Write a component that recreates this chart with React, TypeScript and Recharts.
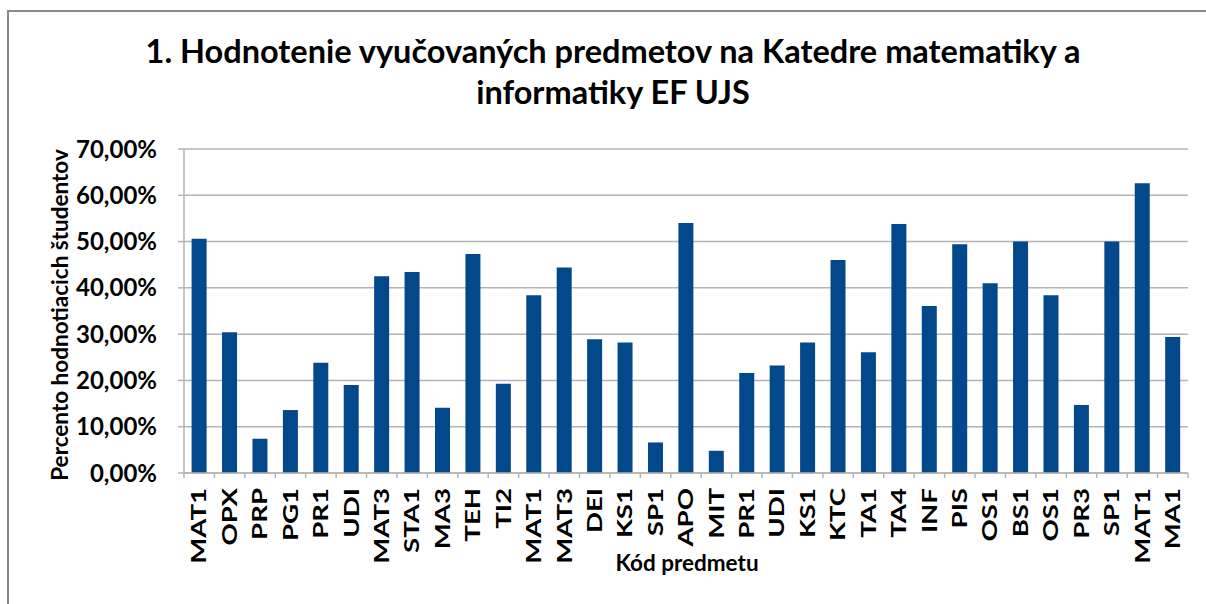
import React from 'react';
import { BarChart, Bar, XAxis, YAxis, CartesianGrid } from 'recharts';

const categories = ['MAT1','OPX','PRP','PG1','PR1','UDI','MAT3','STA1','MA3','TEH','TI2','MAT1','MAT3','DEI','KS1','SP1','APO','MIT','PR1','UDI','KS1','KTC','TA1','TA4','INF','PIS','OS1','BS1','OS1','PR3','SP1','MAT1','MA1'];
const values = [50.6,30.4,7.4,13.6,23.8,19.0,42.5,43.4,14.1,47.3,19.3,38.4,44.4,28.9,28.2,6.6,54.0,4.8,21.6,23.2,28.2,46.0,26.1,53.8,36.1,49.4,41.0,50.0,38.4,14.7,50.0,62.6,29.4];
const yTicks = [0, 10, 20, 30, 40, 50, 60, 70];

const titleLines = ['1. Hodnotenie vyučovaných predmetov na Katedre matematiky a', 'informatiky EF UJS'];
const xTitle = 'Kód predmetu';
const yTitle = 'Percento hodnotiacich študentov';

const data = categories.map((c, i) => ({ code: c, value: values[i] }));

const FONT = 'Lato, Carlito, sans-serif';
const GRID = '#b4b4b4';
const BAR = '#03488B';
const FRAME = '#8a8a8a';

function XTick(props: any) {
  const { x, y, payload, index } = props;
  const half = payload.offset || 0;
  const isLast = index === categories.length - 1;
  return (
    <g>
      <line x1={x - half} x2={x - half} y1={y} y2={y + 5} stroke={GRID} strokeWidth={1.5} />
      {isLast && <line x1={x + half} x2={x + half} y1={y} y2={y + 5} stroke={GRID} strokeWidth={1.5} />}
      <text
        transform={`translate(${x},${y + 15}) rotate(-90) scale(1.38,1)`}
        textAnchor="end"
        dy="0.36em"
        fontFamily={FONT}
        fontWeight={700}
        fontSize={20}
        fill="#000"
      >
        {categories[index] ?? payload.value}
      </text>
    </g>
  );
}

export default function App() {
  return (
    <div style={{ position: 'fixed', left: 0, top: 0, width: 1206, height: 604, overflow: 'hidden', background: '#fff' }}>
      <div style={{ position: 'absolute', left: 7, top: 10, width: 1199, height: 2, background: FRAME }} />
      <div style={{ position: 'absolute', left: 7, top: 10, width: 2, height: 594, background: FRAME }} />
      <div style={{ position: 'absolute', left: 0, top: 0 }}>
        <BarChart
          width={1206}
          height={604}
          data={data}
          margin={{ top: 149, right: 18, bottom: 31, left: 0 }}
          barCategoryGap="25%"
        >
          <CartesianGrid vertical={false} stroke={GRID} strokeWidth={1.5} />
          <XAxis
            dataKey="code"
            type="category"
            allowDuplicatedCategory={true}
            interval={0}
            height={100}
            tickLine={false}
            tickSize={0}
            tickMargin={0}
            axisLine={{ stroke: GRID, strokeWidth: 1.5 }}
            tick={<XTick />}
            label={{
              content: () => (
                <text x={687} y={571} textAnchor="middle" fontFamily={FONT} fontWeight={700} fontSize={22.5} fill="#000">
                  {xTitle}
                </text>
              ),
            }}
          />
          <YAxis
            width={184}
            domain={[0, 70]}
            ticks={yTicks}
            interval={0}
            tickSize={6}
            tickMargin={21}
            tickLine={{ stroke: GRID, strokeWidth: 1.5 }}
            axisLine={{ stroke: GRID, strokeWidth: 1.5 }}
            tickFormatter={(v: number) => v.toFixed(2).replace('.', ',') + '%'}
            tick={{ fontFamily: FONT, fontWeight: 700, fontSize: 24, fill: '#000' }}
            label={{
              content: () => (
                <text transform="translate(60,315) rotate(-90)" textAnchor="middle" dy="0.36em" fontFamily={FONT} fontWeight={700} fontSize={22.5} fill="#000">
                  {yTitle}
                </text>
              ),
            }}
          />
          <YAxis
            yAxisId="right"
            orientation="right"
            width={0}
            domain={[0, 70]}
            tick={false}
            tickLine={false}
            axisLine={{ stroke: GRID, strokeWidth: 1.5 }}
          />
          <Bar dataKey="value" fill={BAR} isAnimationActive={false} />
        </BarChart>
      </div>
      <div
        style={{
          position: 'absolute',
          left: 0,
          top: 30,
          width: 1226,
          textAlign: 'center',
          fontFamily: FONT,
          fontWeight: 700,
          fontSize: 32.5,
          lineHeight: '41px',
          color: '#000',
        }}
      >
        {titleLines.map((l, i) => (
          <div key={i}>{l}</div>
        ))}
      </div>
    </div>
  );
}
